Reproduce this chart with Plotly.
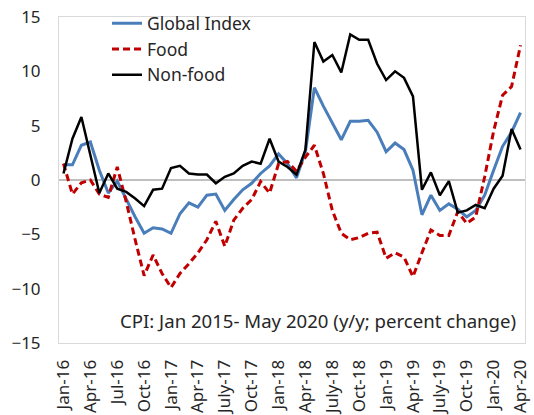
import plotly.graph_objects as go

months = ["Jan", "Feb", "Mar", "Apr", "May", "Jun", "Jul", "Aug", "Sep", "Oct", "Nov", "Dec"]
categories = []
for yr in range(16, 21):
    for m in months:
        categories.append(f"{m}-{yr}")
categories = categories[:52]  # Jan-16 .. Apr-20

tick_vals = categories[::3]
tick_text = ["Jan-16", "Apr-16", "Jul-16", "Oct-16", "Jan-17", "Apr-17", "July-17", "Oct-17",
             "Jan-18", "Apr-18", "July-18", "Oct-18", "Jan-19", "Apr-19", "July-19", "Oct-19",
             "Jan-20", "Apr-20"]

global_index = [1.4, 1.4, 3.2, 3.5, 0.9, -1.2, -0.1, -1.8, -3.4, -4.9,
                -4.4, -4.5, -4.9, -3.1, -2.1, -2.5, -1.4, -1.3, -2.8, -1.8,
                -0.9, -0.3, 0.6, 1.3, 2.4, 1.5, 0.2, 2.6, 8.5, 6.8,
                5.2, 3.7, 5.4, 5.4, 5.5, 4.4, 2.6, 3.4, 2.8, 0.9,
                -3.2, -1.4, -2.8, -2.2, -2.7, -3.4, -2.8, -1.4, 0.9, 3.1,
                4.4, 6.2]

food = [1.5, -1.3, -0.25, 0.0, -1.3, -1.6, 1.2, -2.0, -5.5, -8.8,
        -6.9, -8.6, -9.9, -8.6, -7.7, -6.7, -5.5, -3.8, -6.1, -3.7,
        -2.6, -1.8, -0.15, -1.2, 1.5, 1.7, 0.8, 2.1, 3.2, 0.6,
        -2.8, -4.9, -5.5, -5.3, -4.9, -4.8, -7.2, -6.7, -7.1, -8.9,
        -6.7, -4.6, -5.1, -5.1, -2.9, -4.0, -3.4, 0.3, 4.5, 7.8,
        8.6, 12.4]

non_food = [0.6, 3.8, 5.8, 2.4, -1.2, 0.6, -0.8, -1.1, -1.7, -2.4,
            -0.9, -0.8, 1.1, 1.3, 0.6, 0.5, 0.5, -0.3, 0.3, 0.6,
            1.3, 1.7, 1.5, 3.8, 1.7, 1.2, 0.5, 2.8, 12.7, 10.9,
            11.5, 9.9, 13.4, 12.9, 12.9, 10.7, 9.2, 10.0, 9.4, 7.7,
            -0.9, 0.7, -1.4, -0.1, -3.0, -2.8, -2.3, -2.6, -0.8, 0.4,
            4.7, 2.8]

y_ticks = [-15, -10, -5, 0, 5, 10, 15]
note = "CPI: Jan 2015- May 2020 (y/y; percent change)"

FONT = "Noto Sans"
TXT = "#262626"

fig = go.Figure()
fig.add_trace(go.Scatter(x=categories, y=global_index, mode="lines", name="Global Index",
                         line=dict(color="#4A7EBB", width=3), legendgroup="a"))
fig.add_trace(go.Scatter(x=categories, y=food, mode="lines", name="Food",
                         line=dict(color="#C00000", width=3, dash="7px,4px"), legendgroup="b"))
fig.add_trace(go.Scatter(x=categories, y=non_food, mode="lines", name="Non-food",
                         line=dict(color="#000000", width=2.5), legendgroup="c"))

fig.update_layout(
    width=534, height=415,
    margin=dict(l=59, r=9, t=17, b=72, autoexpand=False),
    paper_bgcolor="white", plot_bgcolor="white",
    font=dict(family=FONT, size=17, color=TXT),
    showlegend=True,
    legend=dict(x=0.103, y=1.036, xanchor="left", yanchor="top",
                bgcolor="rgba(0,0,0,0)", font=dict(size=17.5, color=TXT),
                tracegroupgap=0, itemwidth=30),
    annotations=[dict(text=note, xref="paper", yref="paper", x=0.985, y=0.025,
                      xanchor="right", yanchor="bottom", showarrow=False,
                      font=dict(size=18.6, color=TXT))],
)
fig.update_xaxes(type="category", categoryorder="array", categoryarray=categories,
                 range=[-0.5, len(categories) - 0.5], automargin=False,
                 tickmode="array", tickvals=tick_vals, ticktext=tick_text,
                 tickangle=-90, showgrid=False, zeroline=False,
                 showline=True, linecolor="#d9d9d9", linewidth=1, mirror=True,
                 ticks="", ticklabelstandoff=9, tickfont=dict(size=17, color=TXT))
fig.update_yaxes(range=[-15, 15], tickmode="array", tickvals=y_ticks, automargin=False,
                 showgrid=False, zeroline=True, zerolinecolor="#bfbfbf", zerolinewidth=1.5,
                 showline=True, linecolor="#d9d9d9", linewidth=1, mirror=True,
                 ticks="", ticklabelstandoff=14, tickfont=dict(size=17, color=TXT))

fig.write_html("out.html", config={"displayModeBar": False},
               post_script="document.body.style.margin='0';document.body.style.overflow='hidden';")
